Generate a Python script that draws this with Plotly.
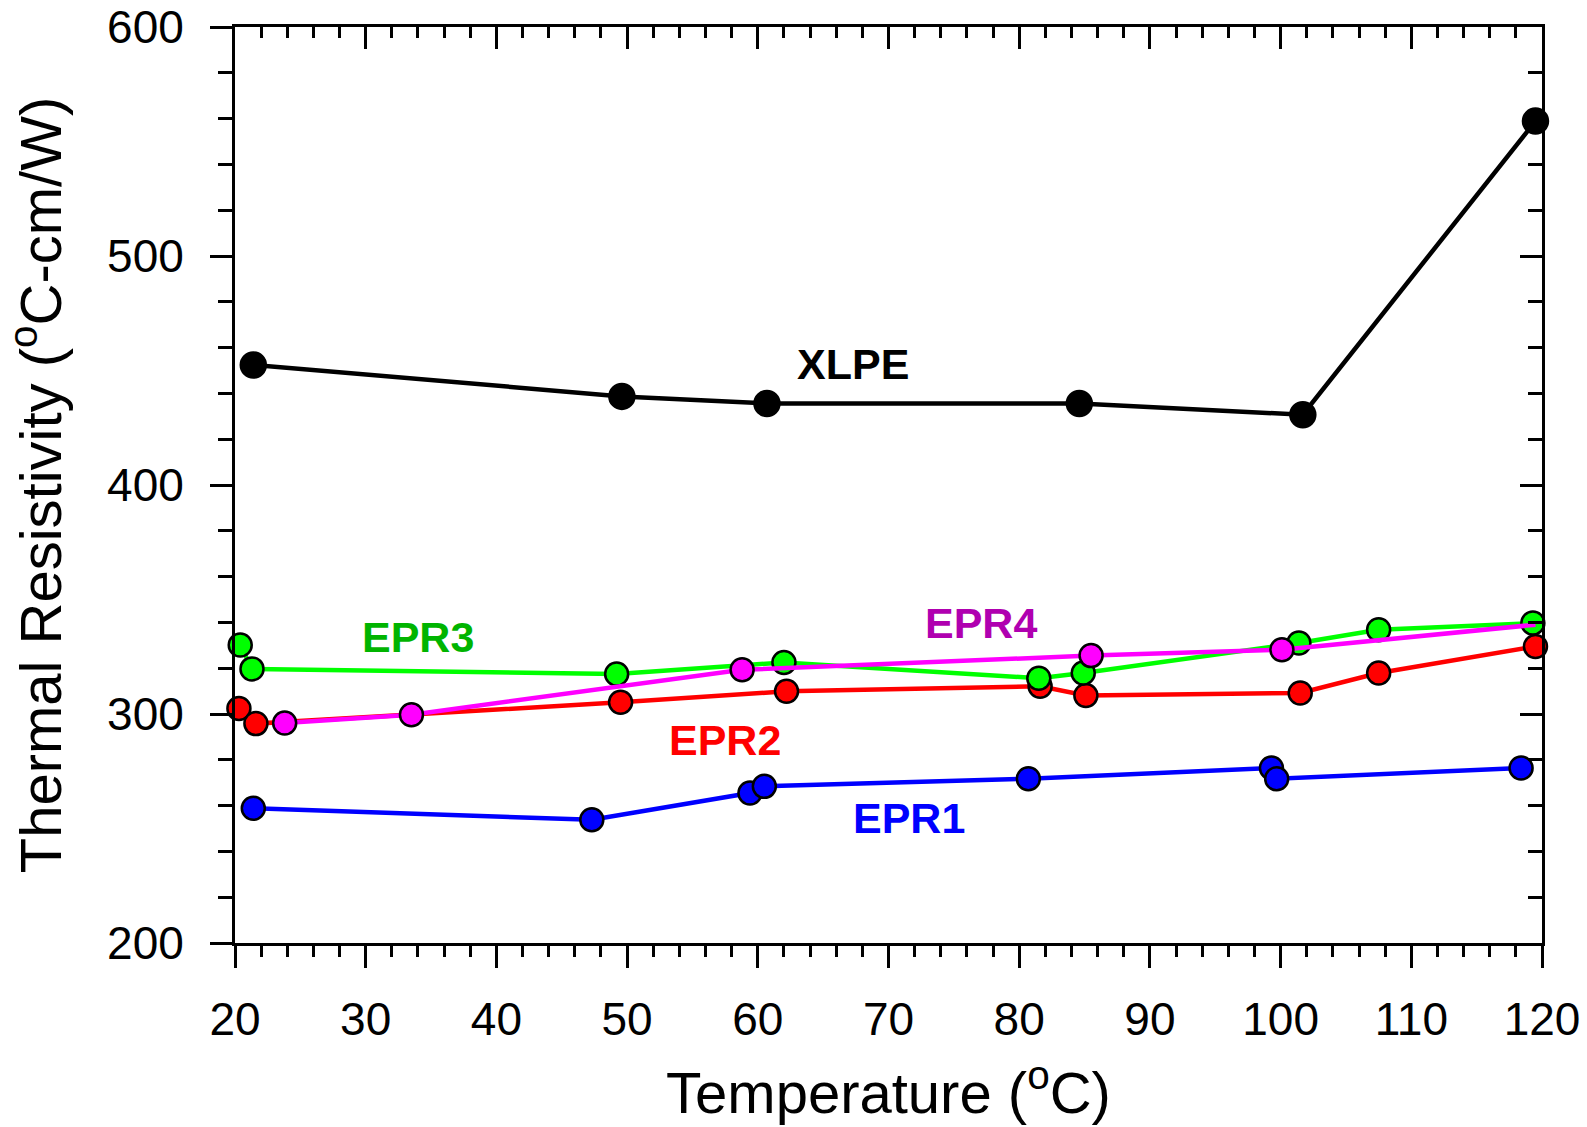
import plotly.graph_objects as go

# ---------------- data ----------------
xlpe_t = [21.4, 49.6, 60.7, 84.6, 101.7, 119.5]
xlpe_r = [452.4, 438.7, 435.6, 435.6, 430.7, 558.9]

epr1_t = [21.4, 47.3, 59.4, 60.5, 80.7, 99.3, 99.7, 118.4]
epr1_r = [258.8, 253.8, 265.5, 268.4, 271.7, 276.4, 271.7, 276.4]

epr2_t = [20.3, 21.6, 49.5, 62.2, 81.6, 85.1, 101.5, 107.5, 119.5]
epr2_r = [302.4, 295.8, 305.1, 309.9, 312.1, 308.1, 309.2, 317.9, 329.5]

epr3_t = [20.4, 21.3, 49.2, 62.0, 81.5, 84.9, 101.4, 107.5, 119.3]
epr3_r = [330.1, 319.7, 317.5, 322.5, 315.6, 317.9, 331.0, 336.8, 339.7]

epr4_t = [23.8, 33.5, 58.8, 85.5, 100.1, 119.5]
epr4_r = [296.1, 299.7, 319.3, 325.5, 328.1, 339.0]

label_text = ["XLPE", "EPR1", "EPR2", "EPR3", "EPR4"]
label_t = [67.3, 71.6, 57.5, 34.0, 77.1]
label_r = [452.8, 254.8, 288.8, 333.5, 339.6]

x_range = [20, 120]
y_range = [200, 600]
x_ticks = [20, 30, 40, 50, 60, 70, 80, 90, 100, 110, 120]
y_ticks = [200, 300, 400, 500, 600]

# ---------------- styles ----------------
FONT = "Liberation Sans, Arial, Helvetica, sans-serif"
line_colors = {"EPR1": "#0000ff", "EPR2": "#ff0000", "EPR3": "#00ff00",
               "EPR4": "#ff00ff", "XLPE": "#000000"}
text_colors = {"XLPE": "#000000", "EPR1": "#0000ff", "EPR2": "#ff0000",
               "EPR3": "#00b400", "EPR4": "#b000b0"}

fig = go.Figure()

series = [("EPR1", epr1_t, epr1_r), ("EPR2", epr2_t, epr2_r),
          ("EPR3", epr3_t, epr3_r), ("EPR4", epr4_t, epr4_r),
          ("XLPE", xlpe_t, xlpe_r)]

for name, t, r in series:
    base = 25 if name == "XLPE" else 23
    sizes = [base] * len(t)
    if name == "EPR4":
        sizes[-1] = 0  # end point hidden under the EPR3 marker in the reference
    fig.add_trace(go.Scatter(
        x=t, y=r, mode="lines+markers", name=name,
        line=dict(color=line_colors[name], width=4.5),
        marker=dict(color=line_colors[name], size=sizes, opacity=1,
                    line=dict(color="black", width=2.5)),
        cliponaxis=False, showlegend=False, hoverinfo="x+y"))

# invisible carrier trace so the mirrored (top/right) axes are drawn
fig.add_trace(go.Scatter(x=[x_range[0]], y=[y_range[0]], xaxis="x2", yaxis="y2",
                         mode="markers", marker=dict(opacity=0),
                         showlegend=False, hoverinfo="skip"))

for txt, t, r in zip(label_text, label_t, label_r):
    fig.add_annotation(x=t, y=r, text="<b>%s</b>" % txt, showarrow=False,
                       font=dict(family=FONT, size=43, color=text_colors[txt]),
                       xanchor="center", yanchor="middle")

axis_common = dict(showline=True, linecolor="black", linewidth=3,
                   showgrid=False, zeroline=False, tickcolor="black",
                   tickwidth=2.5, ticklen=22, automargin=False)

fig.update_layout(
    template="none",
    width=1587, height=1127,
    margin=dict(l=235, r=45, t=27, b=184),
    paper_bgcolor="white", plot_bgcolor="white",
    font=dict(family=FONT, color="black"),
    xaxis=dict(range=x_range, tickvals=x_ticks, ticks="outside",
               tickfont=dict(size=46, family=FONT), ticklabelstandoff=12,
               minor=dict(dtick=2, ticks="outside", ticklen=11,
                          tickwidth=2.5, tickcolor="black"),
               title=dict(text="Temperature (<sup>o</sup>C)",
                          font=dict(size=58, family=FONT), standoff=29),
               **axis_common),
    yaxis=dict(range=y_range, tickvals=y_ticks, ticks="outside",
               tickfont=dict(size=46, family=FONT), ticklabelstandoff=17,
               minor=dict(dtick=20, ticks="outside", ticklen=14,
                          tickwidth=2.5, tickcolor="black"),
               title=dict(text="Thermal Resistivity (<sup>o</sup>C-cm/W)",
                          font=dict(size=58, family=FONT), standoff=35),
               **axis_common),
    xaxis2=dict(range=x_range, overlaying="x", side="top", anchor="y2",
                tickvals=x_ticks, ticks="inside", showticklabels=False,
                minor=dict(dtick=2, ticks="inside", ticklen=11,
                           tickwidth=2.5, tickcolor="black"),
                **axis_common),
    yaxis2=dict(range=y_range, overlaying="y", side="right", anchor="x2",
                tickvals=y_ticks, ticks="inside", showticklabels=False,
                minor=dict(dtick=20, ticks="inside", ticklen=14,
                           tickwidth=2.5, tickcolor="black"),
                **axis_common),
)

fig.write_html("out.html", config={"displayModeBar": False},
               post_script="document.body.style.margin='0';document.body.style.overflow='hidden';")
